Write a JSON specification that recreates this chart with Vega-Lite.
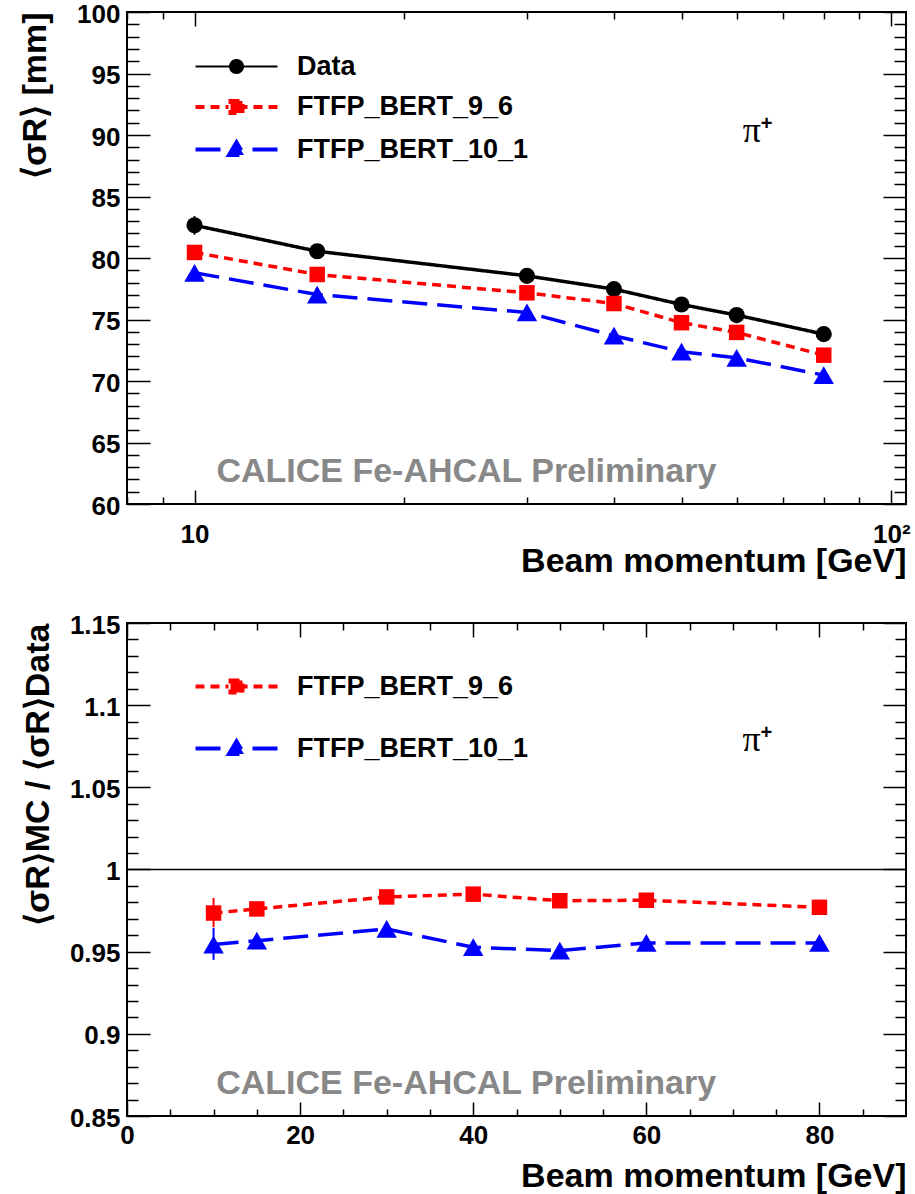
{
  "$schema": "https://vega.github.io/schema/vega-lite/v6.json",
  "background": "white",
  "padding": {"left": 17, "top": 0, "right": 9, "bottom": 4},
  "bounds": "flush",
  "spacing": 119,
  "config": {
    "font": "Liberation Sans",
    "view": {"stroke": "black", "strokeWidth": 2},
    "axis": {
      "domain": false, "grid": false,
      "labelFont": "Liberation Sans", "labelFontWeight": "bold", "labelFontSize": 26, "labelColor": "black",
      "labelOverlap": false, "labelFlush": false, "labelBound": false,
      "tickColor": "black", "tickWidth": 1.5,
      "titleFont": "Liberation Sans", "titleFontWeight": "bold", "titleFontSize": 34, "titleColor": "black"
    },
    "legend": {"labelFont": "Liberation Sans", "labelFontWeight": "bold", "labelFontSize": 27, "labelColor": "black", "labelLimit": 500}
  },
  "datasets": {
    "abs": [
      {"model": "Data", "p": 10, "v": 82.66, "lo": 81.9, "hi": 83.4},
      {"model": "Data", "p": 15, "v": 80.55},
      {"model": "Data", "p": 30, "v": 78.55},
      {"model": "Data", "p": 40, "v": 77.47},
      {"model": "Data", "p": 50, "v": 76.22},
      {"model": "Data", "p": 60, "v": 75.36},
      {"model": "Data", "p": 80, "v": 73.81},
      {"model": "FTFP_BERT_9_6", "p": 10, "v": 80.45},
      {"model": "FTFP_BERT_9_6", "p": 15, "v": 78.66},
      {"model": "FTFP_BERT_9_6", "p": 30, "v": 77.17},
      {"model": "FTFP_BERT_9_6", "p": 40, "v": 76.3},
      {"model": "FTFP_BERT_9_6", "p": 50, "v": 74.74},
      {"model": "FTFP_BERT_9_6", "p": 60, "v": 73.95},
      {"model": "FTFP_BERT_9_6", "p": 80, "v": 72.1},
      {"model": "FTFP_BERT_10_1", "p": 10, "v": 78.8},
      {"model": "FTFP_BERT_10_1", "p": 15, "v": 77.03},
      {"model": "FTFP_BERT_10_1", "p": 30, "v": 75.57},
      {"model": "FTFP_BERT_10_1", "p": 40, "v": 73.68},
      {"model": "FTFP_BERT_10_1", "p": 50, "v": 72.38},
      {"model": "FTFP_BERT_10_1", "p": 60, "v": 71.89},
      {"model": "FTFP_BERT_10_1", "p": 80, "v": 70.48}
    ],
    "ratio": [
      {"model": "FTFP_BERT_9_6", "p": 10, "v": 0.9735, "lo": 0.9648, "hi": 0.9827},
      {"model": "FTFP_BERT_9_6", "p": 15, "v": 0.976},
      {"model": "FTFP_BERT_9_6", "p": 30, "v": 0.9833},
      {"model": "FTFP_BERT_9_6", "p": 40, "v": 0.985},
      {"model": "FTFP_BERT_9_6", "p": 50, "v": 0.981},
      {"model": "FTFP_BERT_9_6", "p": 60, "v": 0.9813},
      {"model": "FTFP_BERT_9_6", "p": 80, "v": 0.977},
      {"model": "FTFP_BERT_10_1", "p": 10, "v": 0.9543, "lo": 0.945, "hi": 0.9644},
      {"model": "FTFP_BERT_10_1", "p": 15, "v": 0.9567},
      {"model": "FTFP_BERT_10_1", "p": 30, "v": 0.9638},
      {"model": "FTFP_BERT_10_1", "p": 40, "v": 0.9527},
      {"model": "FTFP_BERT_10_1", "p": 50, "v": 0.9506},
      {"model": "FTFP_BERT_10_1", "p": 60, "v": 0.9553},
      {"model": "FTFP_BERT_10_1", "p": 80, "v": 0.9553}
    ]
  },
  "resolve": {"scale": {"color": "independent", "strokeDash": "independent"}, "legend": {"color": "independent"}},
  "vconcat": [
    {
      "width": 779,
      "height": 492,
      "data": {"name": "abs"},
      "resolve": {"axis": {"x": "independent", "y": "independent"}},
      "layer": [
        {
          "mark": {"type": "line", "strokeWidth": 3.5},
          "encoding": {
            "x": {"field": "p", "type": "quantitative",
              "scale": {"type": "log", "domain": [8, 105], "nice": false},
              "axis": {"orient": "bottom", "values": [8, 9, 10, 20, 30, 40, 50, 60, 70, 80, 90, 100],
                "labelExpr": "datum.value === 10 ? '10' : datum.value === 100 ? '10²' : ''",
                "tickSize": {"condition": {"test": "datum.value === 10 || datum.value === 100", "value": -14}, "value": -7},
                "labelPadding": 31, "title": "Beam momentum [GeV]", "titleAnchor": "end", "titlePadding": -10}},
            "y": {"field": "v", "type": "quantitative",
              "scale": {"domain": [60, 100], "nice": false, "zero": false},
              "axis": {"orient": "left", "values": [60,61,62,63,64,65,66,67,68,69,70,71,72,73,74,75,76,77,78,79,80,81,82,83,84,85,86,87,88,89,90,91,92,93,94,95,96,97,98,99,100],
                "labelExpr": "datum.value % 5 === 0 ? format(datum.value, 'd') : ''",
                "tickSize": {"condition": {"test": "datum.value % 5 === 0", "value": -23}, "value": -12},
                "labelPadding": 30, "labelOffset": 2, "title": "⟨σR⟩ [mm]", "titleAnchor": "end", "titlePadding": 24}},
            "color": {"field": "model", "type": "nominal",
              "scale": {"domain": ["Data", "FTFP_BERT_9_6", "FTFP_BERT_10_1"], "range": ["black", "#ff0000", "#0000ff"]},
              "legend": {"orient": "none", "legendX": 96, "legendY": 41, "title": null,
                "symbolSize": 4, "labelOffset": 47, "rowPadding": 12.5,
                "encode": {"symbols": {"update": {
                  "shape": {"signal": "datum.value === 'Data' ? 'M-41,0L-7,0M41,0L7,0M-6.5,0A6.5,6.5,0,1,1,6.5,0A6.5,6.5,0,1,1,-6.5,0Z' : datum.value === 'FTFP_BERT_9_6' ? 'M-41,0L-8,0M41,0L8,0M-6,-6L6,-6L6,6L-6,6Z' : 'M-41,0L-9,0M41,0L9,0M0,-7L-7.5,5.5L7.5,5.5Z'"},
                  "stroke": {"signal": "datum.value === 'Data' ? 'black' : datum.value === 'FTFP_BERT_9_6' ? '#ff0000' : '#0000ff'"},
                  "fill": {"signal": "datum.value === 'Data' ? 'black' : datum.value === 'FTFP_BERT_9_6' ? '#ff0000' : '#0000ff'"},
                  "strokeWidth": {"signal": "datum.value === 'Data' ? 2 : 4"},
                  "strokeDash": {"signal": "datum.value === 'FTFP_BERT_9_6' ? [9,6] : datum.value === 'FTFP_BERT_10_1' ? [25,10] : [1,0]"},
                  "opacity": {"value": 1}, "fillOpacity": {"value": 1}, "strokeOpacity": {"value": 1},
                  "size": {"value": 4}
                }}}}},
            "strokeDash": {"field": "model", "type": "nominal", "legend": null,
              "scale": {"domain": ["Data", "FTFP_BERT_9_6", "FTFP_BERT_10_1"], "range": [[1, 0], [9, 6], [25, 10]]}}
          }
        },
        {
          "transform": [{"filter": "isValid(datum.lo)"}],
          "mark": {"type": "rule", "strokeWidth": 2},
          "encoding": {
            "x": {"field": "p", "type": "quantitative",
              "axis": {"orient": "top", "values": [8, 9, 10, 20, 30, 40, 50, 60, 70, 80, 90, 100], "labels": false,
                "tickSize": {"condition": {"test": "datum.value === 10 || datum.value === 100", "value": -14}, "value": -7}, "title": null}},
            "y": {"field": "lo", "type": "quantitative",
              "axis": {"orient": "right", "values": [60,61,62,63,64,65,66,67,68,69,70,71,72,73,74,75,76,77,78,79,80,81,82,83,84,85,86,87,88,89,90,91,92,93,94,95,96,97,98,99,100], "labels": false,
                "tickSize": {"condition": {"test": "datum.value % 5 === 0", "value": -23}, "value": -12}, "title": null}},
            "y2": {"field": "hi"},
            "color": {"field": "model", "type": "nominal"}
          }
        },
        {
          "mark": {"type": "point", "filled": true, "opacity": 1, "strokeWidth": 0},
          "encoding": {
            "x": {"field": "p", "type": "quantitative", "axis": null},
            "y": {"field": "v", "type": "quantitative", "axis": null},
            "color": {"field": "model", "type": "nominal"},
            "shape": {"condition": [{"test": "datum.model === 'Data'", "value": "circle"}, {"test": "datum.model === 'FTFP_BERT_9_6'", "value": "square"}], "value": "triangle-up"},
            "size": {"condition": [{"test": "datum.model === 'Data'", "value": 260}, {"test": "datum.model === 'FTFP_BERT_9_6'", "value": 240}], "value": 420}
          }
        },
        {
          "data": {"values": [{}]},
          "mark": {"type": "text", "align": "left", "baseline": "alphabetic", "font": "Liberation Sans", "fontWeight": "bold", "fontSize": 34, "color": "#888888"},
          "encoding": {
            "x": {"datum": 10.75, "type": "quantitative", "axis": null},
            "y": {"datum": 61.8, "type": "quantitative", "axis": null},
            "text": {"value": "CALICE Fe-AHCAL Preliminary"}
          }
        },
        {
          "data": {"values": [{}]},
          "mark": {"type": "text", "align": "left", "baseline": "alphabetic", "font": "Liberation Serif", "fontSize": 36, "color": "black"},
          "encoding": {
            "x": {"datum": 61.2, "type": "quantitative", "axis": null},
            "y": {"datum": 89.46, "type": "quantitative", "axis": null},
            "text": {"value": "π"}
          }
        },
        {
          "data": {"values": [{}]},
          "mark": {"type": "text", "align": "left", "baseline": "alphabetic", "font": "Liberation Sans", "fontWeight": "bold", "fontSize": 20, "color": "black", "dx": 18, "dy": -12},
          "encoding": {
            "x": {"datum": 61.2, "type": "quantitative", "axis": null},
            "y": {"datum": 89.46, "type": "quantitative", "axis": null},
            "text": {"value": "+"}
          }
        }
      ]
    },
    {
      "width": 779,
      "height": 493,
      "data": {"name": "ratio"},
      "resolve": {"axis": {"x": "independent", "y": "independent"}},
      "layer": [
        {
          "mark": {"type": "line", "strokeWidth": 3.5},
          "encoding": {
            "x": {"field": "p", "type": "quantitative",
              "scale": {"domain": [0, 90], "nice": false, "zero": false},
              "axis": {"orient": "bottom", "values": [0,5,10,15,20,25,30,35,40,45,50,55,60,65,70,75,80,85],
                "labelExpr": "datum.value % 20 === 0 ? format(datum.value, 'd') : ''",
                "tickSize": {"condition": {"test": "datum.value % 20 === 0", "value": -14}, "value": -7},
                "labelPadding": 20.5, "title": "Beam momentum [GeV]", "titleAnchor": "end", "titlePadding": 4}},
            "y": {"field": "v", "type": "quantitative",
              "scale": {"domain": [0.85, 1.15], "nice": false, "zero": false},
              "axis": {"orient": "left", "values": [0.85,0.86,0.87,0.88,0.89,0.9,0.91,0.92,0.93,0.94,0.95,0.96,0.97,0.98,0.99,1,1.01,1.02,1.03,1.04,1.05,1.06,1.07,1.08,1.09,1.1,1.11,1.12,1.13,1.14,1.15],
                "labelExpr": "round(datum.value*100) % 5 === 0 ? format(datum.value, '.2~f') : ''",
                "tickSize": {"condition": {"test": "round(datum.value*100) % 5 === 0", "value": -23}, "value": -11},
                "labelPadding": 30, "labelOffset": 2, "title": "⟨σR⟩MC / ⟨σR⟩Data", "titleAnchor": "end", "titlePadding": 14}},
            "color": {"field": "model", "type": "nominal",
              "scale": {"domain": ["FTFP_BERT_9_6", "FTFP_BERT_10_1"], "range": ["#ff0000", "#0000ff"]},
              "legend": {"orient": "none", "legendX": 96, "legendY": 50, "title": null,
                "symbolSize": 4, "labelOffset": 47, "rowPadding": 32,
                "encode": {"symbols": {"update": {
                  "shape": {"signal": "datum.value === 'FTFP_BERT_9_6' ? 'M-41,0L-8,0M41,0L8,0M-6,-6L6,-6L6,6L-6,6Z' : 'M-41,0L-9,0M41,0L9,0M0,-7L-7.5,5.5L7.5,5.5Z'"},
                  "stroke": {"signal": "datum.value === 'FTFP_BERT_9_6' ? '#ff0000' : '#0000ff'"},
                  "fill": {"signal": "datum.value === 'FTFP_BERT_9_6' ? '#ff0000' : '#0000ff'"},
                  "strokeWidth": {"value": 4},
                  "strokeDash": {"signal": "datum.value === 'FTFP_BERT_9_6' ? [9,6] : [25,10]"},
                  "opacity": {"value": 1}, "fillOpacity": {"value": 1}, "strokeOpacity": {"value": 1},
                  "size": {"value": 4}
                }}}}},
            "strokeDash": {"field": "model", "type": "nominal", "legend": null,
              "scale": {"domain": ["FTFP_BERT_9_6", "FTFP_BERT_10_1"], "range": [[9, 6], [25, 10]]}}
          }
        },
        {
          "data": {"values": [{}]},
          "mark": {"type": "rule", "color": "black", "strokeWidth": 1.5},
          "encoding": {"y": {"datum": 1, "type": "quantitative", "axis": null}}
        },
        {
          "transform": [{"filter": "isValid(datum.lo)"}],
          "mark": {"type": "rule", "strokeWidth": 2},
          "encoding": {
            "x": {"field": "p", "type": "quantitative",
              "axis": {"orient": "top", "values": [0,5,10,15,20,25,30,35,40,45,50,55,60,65,70,75,80,85], "labels": false,
                "tickSize": {"condition": {"test": "datum.value % 20 === 0", "value": -14}, "value": -7}, "title": null}},
            "y": {"field": "lo", "type": "quantitative",
              "axis": {"orient": "right", "values": [0.85,0.86,0.87,0.88,0.89,0.9,0.91,0.92,0.93,0.94,0.95,0.96,0.97,0.98,0.99,1,1.01,1.02,1.03,1.04,1.05,1.06,1.07,1.08,1.09,1.1,1.11,1.12,1.13,1.14,1.15], "labels": false,
                "tickSize": {"condition": {"test": "round(datum.value*100) % 5 === 0", "value": -23}, "value": -11}, "title": null}},
            "y2": {"field": "hi"},
            "color": {"field": "model", "type": "nominal"}
          }
        },
        {
          "mark": {"type": "point", "filled": true, "opacity": 1, "strokeWidth": 0},
          "encoding": {
            "x": {"field": "p", "type": "quantitative", "axis": null},
            "y": {"field": "v", "type": "quantitative", "axis": null},
            "color": {"field": "model", "type": "nominal"},
            "shape": {"condition": {"test": "datum.model === 'FTFP_BERT_9_6'", "value": "square"}, "value": "triangle-up"},
            "size": {"condition": {"test": "datum.model === 'FTFP_BERT_9_6'", "value": 240}, "value": 420}
          }
        },
        {
          "data": {"values": [{}]},
          "mark": {"type": "text", "align": "left", "baseline": "alphabetic", "font": "Liberation Sans", "fontWeight": "bold", "fontSize": 34, "color": "#888888"},
          "encoding": {
            "x": {"datum": 10.3, "type": "quantitative", "axis": null},
            "y": {"datum": 0.8634, "type": "quantitative", "axis": null},
            "text": {"value": "CALICE Fe-AHCAL Preliminary"}
          }
        },
        {
          "data": {"values": [{}]},
          "mark": {"type": "text", "align": "left", "baseline": "alphabetic", "font": "Liberation Serif", "fontSize": 36, "color": "black"},
          "encoding": {
            "x": {"datum": 71.1, "type": "quantitative", "axis": null},
            "y": {"datum": 1.072, "type": "quantitative", "axis": null},
            "text": {"value": "π"}
          }
        },
        {
          "data": {"values": [{}]},
          "mark": {"type": "text", "align": "left", "baseline": "alphabetic", "font": "Liberation Sans", "fontWeight": "bold", "fontSize": 20, "color": "black", "dx": 18, "dy": -12},
          "encoding": {
            "x": {"datum": 71.1, "type": "quantitative", "axis": null},
            "y": {"datum": 1.072, "type": "quantitative", "axis": null},
            "text": {"value": "+"}
          }
        }
      ]
    }
  ]
}
